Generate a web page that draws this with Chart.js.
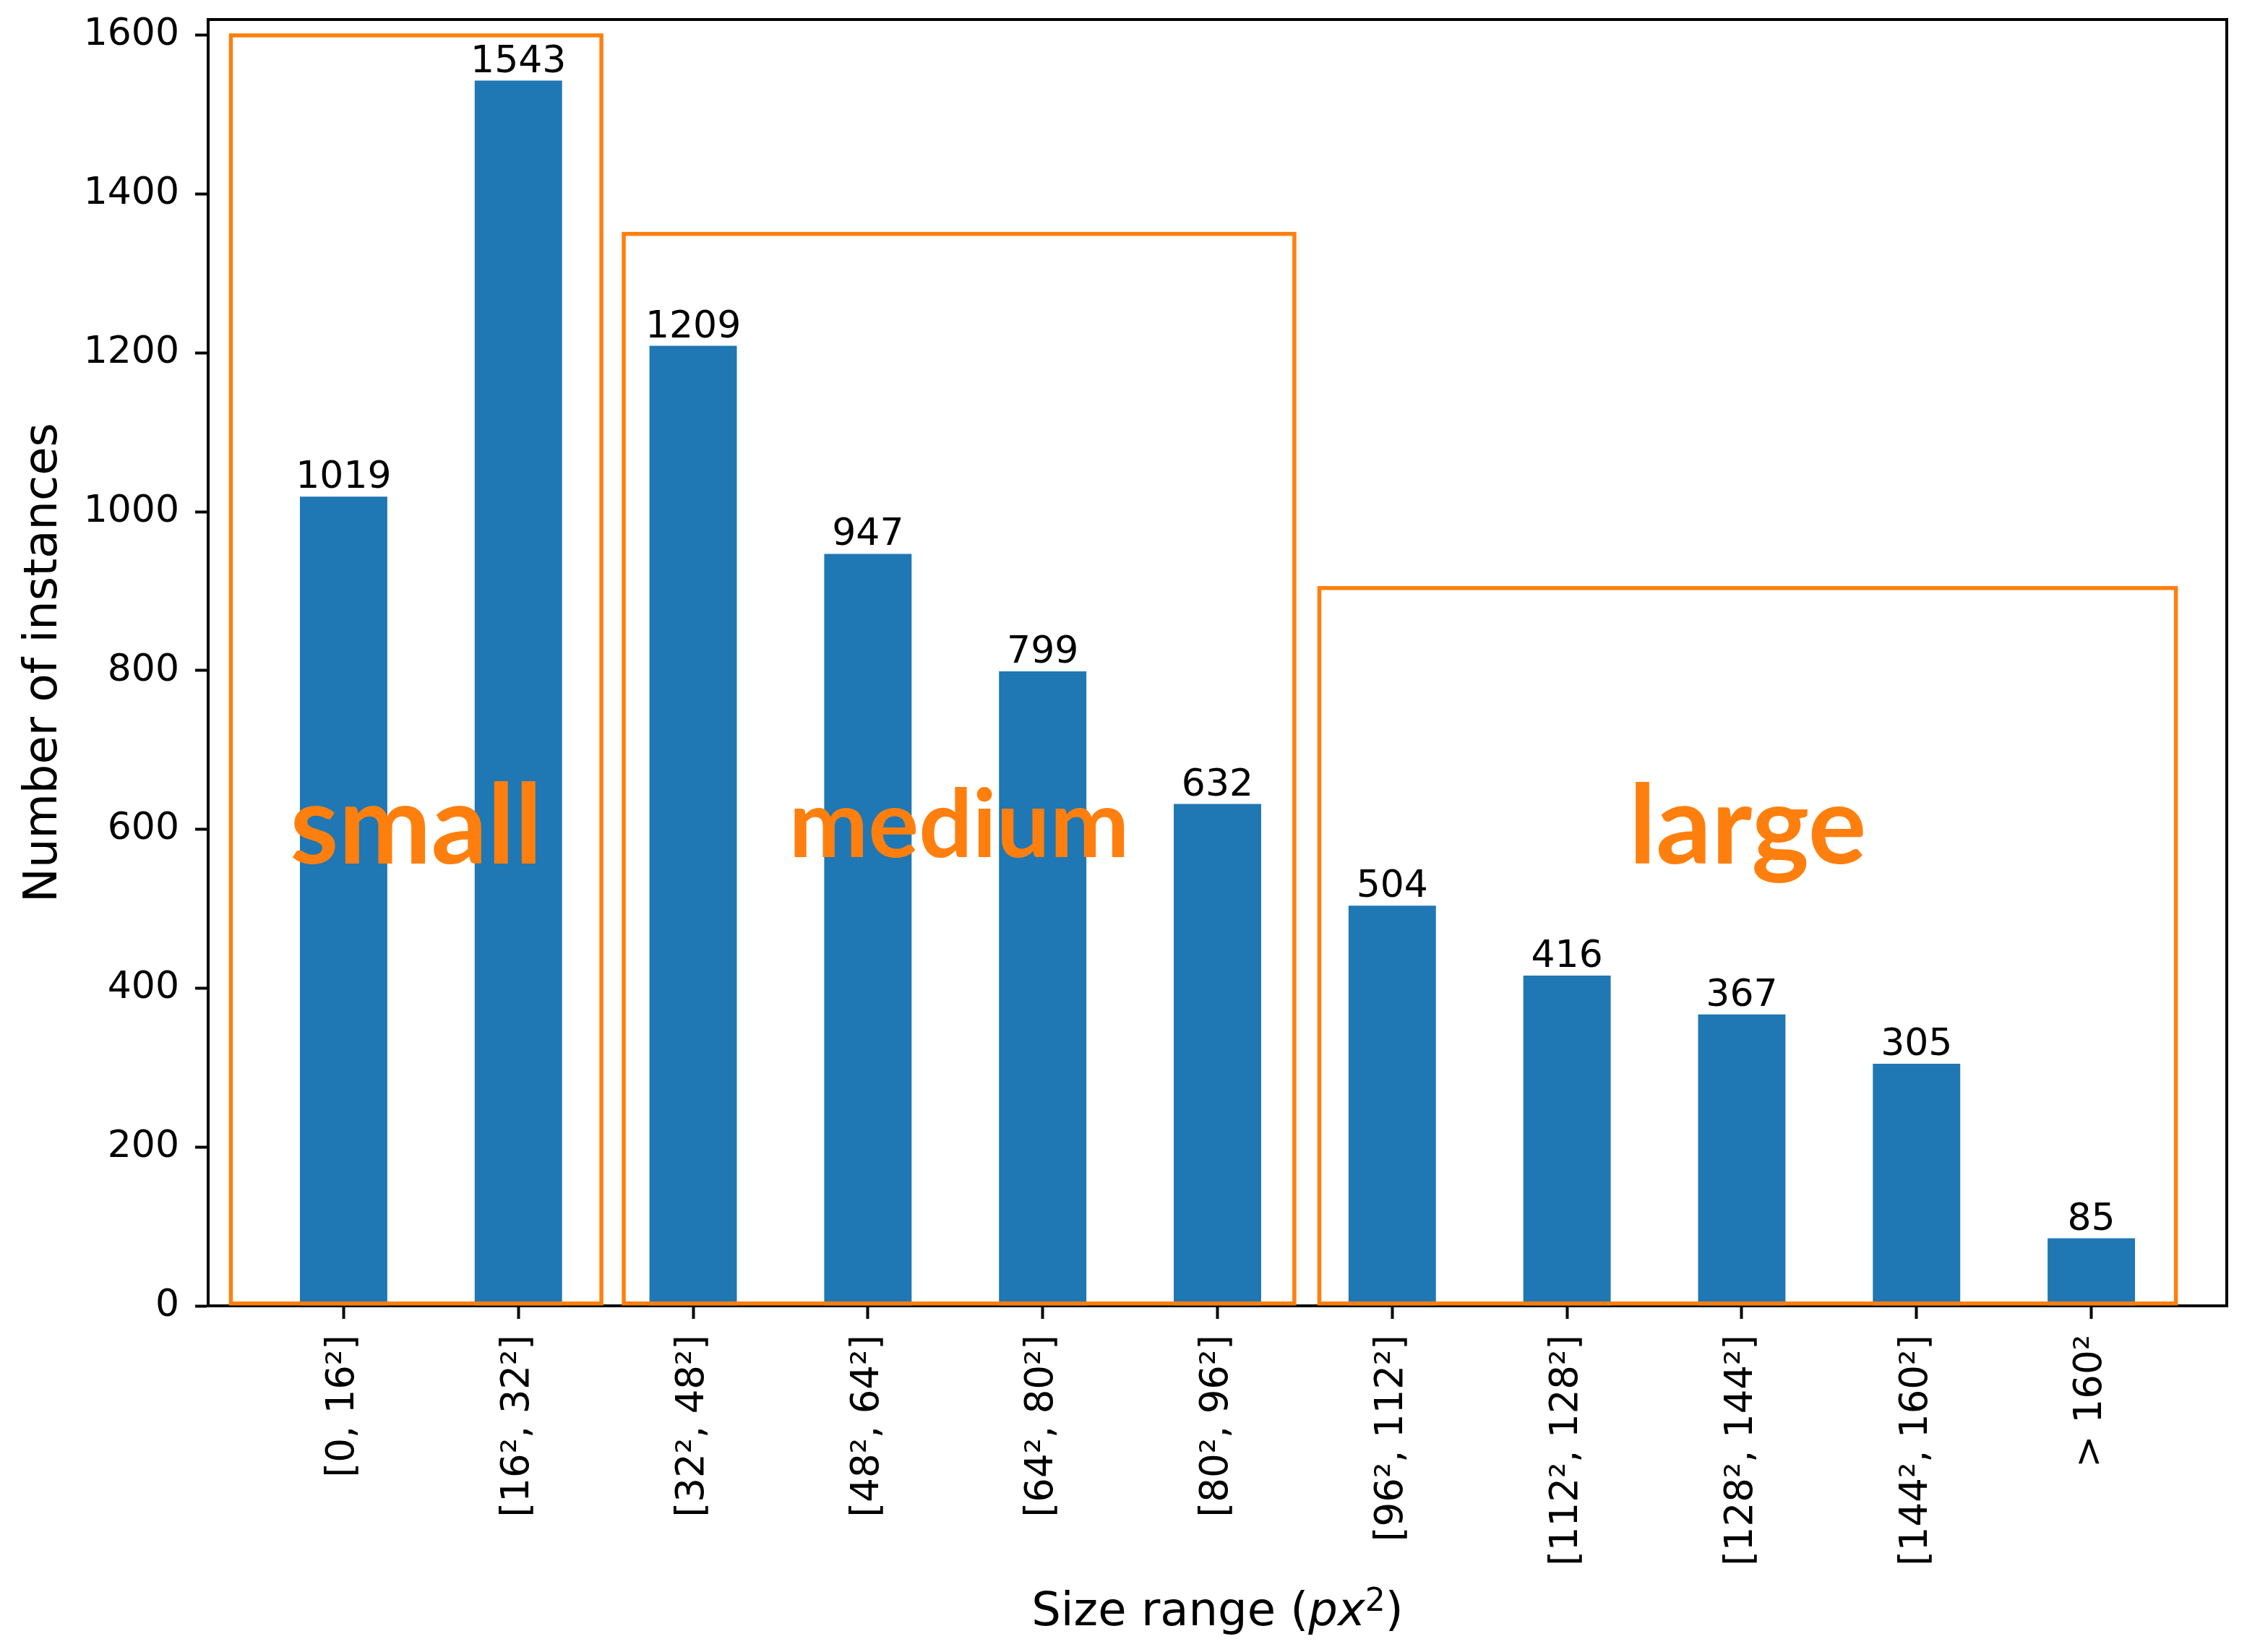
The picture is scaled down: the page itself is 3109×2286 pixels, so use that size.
<!DOCTYPE html>
<html>
<head>
<meta charset="utf-8">
<script src="https://cdn.jsdelivr.net/npm/chart.js@4.4.1/dist/chart.umd.min.js"></script>
<style>
  html, body { margin: 0; padding: 0; background: #fff; overflow: hidden; }
  canvas { display: block; }
</style>
</head>
<body>
<canvas id="sizeChart" width="3109" height="2286"></canvas>
<script>
// size bins on the x axis
var sizeRanges = ['[0, 16²]', '[16², 32²]', '[32², 48²]', '[48², 64²]', '[64², 80²]', '[80², 96²]',
  '[96², 112²]', '[112², 128²]', '[128², 144²]', '[144², 160²]', '> 160²'];
var instanceCounts = [1019, 1543, 1209, 947, 799, 632, 504, 416, 367, 305, 85];
var yTicks = [0, 200, 400, 600, 800, 1000, 1200, 1400, 1600];

// orange group boxes, x in bin index units, y in counts
var groupNames = ['small', 'medium', 'large'];
var groupStart = [-0.645, 1.603, 5.583];
var groupEnd = [1.475, 5.44, 10.484];
var groupTop = [1600, 1350, 904];

var BLUE = '#1f77b4';
var ORANGE = '#ff7f0e';
var FONT = '"DejaVu Sans", sans-serif';

var extras = {
  id: 'extras',
  afterDatasetsDraw: function(chart) {
    var ctx = chart.ctx, xs = chart.scales.x, ys = chart.scales.y;
    var groupFontSize = [153, 131, 151];
    ctx.save();

    // boxes
    ctx.strokeStyle = ORANGE;
    ctx.lineWidth = 5.5;
    var bottom = ys.getPixelForValue(3);
    for (var i = 0; i < groupNames.length; i++) {
      var left = xs.getPixelForValue(groupStart[i]);
      var right = xs.getPixelForValue(groupEnd[i]);
      var top = ys.getPixelForValue(groupTop[i]);
      ctx.strokeRect(left, top, right - left, bottom - top);
    }

    // group names
    ctx.fillStyle = ORANGE;
    ctx.textAlign = 'center';
    ctx.textBaseline = 'alphabetic';
    for (var j = 0; j < groupNames.length; j++) {
      var cx = (xs.getPixelForValue(groupStart[j]) + xs.getPixelForValue(groupEnd[j])) / 2;
      ctx.font = 'bold ' + groupFontSize[j] + 'px Lato';
      ctx.fillText(groupNames[j], cx, ys.getPixelForValue(j === 1 ? 565 : 557));
    }

    // value labels over bars
    ctx.fillStyle = '#000';
    ctx.font = '52px ' + FONT;
    chart.getDatasetMeta(0).data.forEach(function(bar, k) {
      ctx.fillText(String(instanceCounts[k]), bar.x, bar.y - 12);
    });
    ctx.restore();
  },
  afterDraw: function(chart) {
    var ctx = chart.ctx, area = chart.chartArea;
    ctx.save();
    // top and right spines
    ctx.strokeStyle = '#000';
    ctx.lineWidth = 4;
    ctx.beginPath();
    ctx.moveTo(area.left - 2, area.top);
    ctx.lineTo(area.right, area.top);
    ctx.lineTo(area.right, area.bottom + 2);
    ctx.stroke();

    ctx.fillStyle = '#000';
    // y title
    ctx.save();
    ctx.translate(78, (area.top + area.bottom) / 2);
    ctx.rotate(-Math.PI / 2);
    ctx.font = '64px ' + FONT;
    ctx.textAlign = 'center';
    ctx.textBaseline = 'alphabetic';
    ctx.fillText('Number of instances', 0, 0);
    ctx.restore();

    // x title: Size range (px^2)
    var parts = [
      { t: 'Size range (', f: '64px ' + FONT, dy: 0 },
      { t: 'px', f: 'italic 64px ' + FONT, dy: 0 },
      { t: '2', f: '44px ' + FONT, dy: -20 },
      { t: ')', f: '64px ' + FONT, dy: 0 }
    ];
    var total = 0;
    parts.forEach(function(p) { ctx.font = p.f; p.w = ctx.measureText(p.t).width; total += p.w; });
    var x = (area.left + area.right) / 2 - total / 2;
    ctx.textAlign = 'left';
    ctx.textBaseline = 'alphabetic';
    parts.forEach(function(p) {
      ctx.font = p.f;
      ctx.fillText(p.t, x, 2249 + p.dy);
      x += p.w;
    });
    ctx.restore();
  }
};

var ctx = document.getElementById('sizeChart').getContext('2d');
var sizeChart = new Chart(ctx, {
  type: 'bar',
  data: {
    datasets: [{
      data: instanceCounts.map(function(v, i) { return { x: i, y: v }; }),
      backgroundColor: BLUE,
      borderWidth: 0,
      categoryPercentage: 1,
      barPercentage: 0.5
    }]
  },
  options: {
    responsive: false,
    animation: false,
    layout: { padding: { top: 27, right: 28, left: 0, bottom: 0 } },
    plugins: { legend: { display: false }, tooltip: { enabled: false } },
    scales: {
      x: {
        type: 'linear',
        offset: false,
        min: -0.775,
        max: 10.775,
        afterBuildTicks: function(s) { s.ticks = sizeRanges.map(function(_, i) { return { value: i }; }); },
        afterFit: function(s) { s.height = 479; s.paddingLeft = 0; s.paddingRight = 0; },
        ticks: {
          autoSkip: false,
          minRotation: 90,
          maxRotation: 90,
          padding: 22,
          color: '#000',
          font: { family: 'DejaVu Sans', size: 53 },
          callback: function(v) { return sizeRanges[v]; }
        },
        grid: { offset: false, drawOnChartArea: false, drawTicks: true, tickLength: 18, tickWidth: 4, tickColor: '#000' },
        border: { display: true, color: '#000', width: 4 }
      },
      y: {
        min: 0,
        max: 1620,
        afterBuildTicks: function(s) { s.ticks = yTicks.map(function(v) { return { value: v }; }); },
        afterFit: function(s) { s.width = 288; s.paddingTop = 0; s.paddingBottom = 0; },
        ticks: {
          padding: 22,
          color: '#000',
          font: { family: 'DejaVu Sans', size: 52 },
          callback: function(v) { return String(v); }
        },
        grid: { drawOnChartArea: false, drawTicks: true, tickLength: 18, tickWidth: 4, tickColor: '#000' },
        border: { display: true, color: '#000', width: 4 }
      }
    }
  },
  plugins: [extras]
});
</script>
</body>
</html>
